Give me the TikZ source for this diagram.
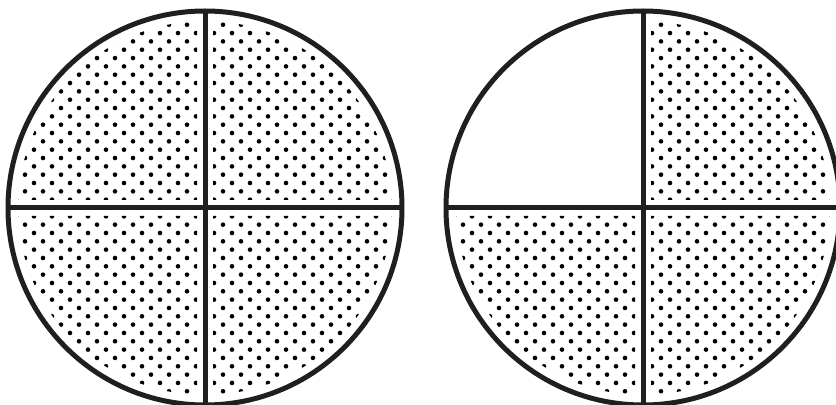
\documentclass[tikz,border=0pt]{standalone}
\usetikzlibrary{calc}
\newcommand\dotgrid[1]{%
  \foreach \j in {-24,...,24}
    \foreach \i in {-11,...,11}
      \fill ($(#1)+({18*\i+9*mod(\j,2)},{8.33*\j})$) circle (2.3);}
\begin{document}
\begin{tikzpicture}[x=0.02cm, y=-0.02cm,
   rim/.style={line width=0.1cm, draw=black!88}]
  \useasboundingbox (0,0) rectangle (836,405);
  \coordinate (L) at (205,208);
  \coordinate (R) at (643,208);
  \begin{scope}
    \clip (L) circle (187);
    \clip ($(L)+(-200,-200)$) rectangle ($(L)+(-8,-8)$)
          ($(L)+(8,-200)$) rectangle ($(L)+(200,-8)$)
          ($(L)+(-200,8)$) rectangle ($(L)+(-8,200)$)
          ($(L)+(8,8)$) rectangle ($(L)+(200,200)$);
    \dotgrid{L}
  \end{scope}
  \begin{scope}
    \clip (R) circle (187);
    \clip ($(R)+(8,-200)$) rectangle ($(R)+(200,-8)$)
          ($(R)+(-200,8)$) rectangle ($(R)+(-8,200)$)
          ($(R)+(8,8)$) rectangle ($(R)+(200,200)$);
    \dotgrid{R}
  \end{scope}
  \foreach \c in {L,R} {
    \draw[rim] (\c) circle (197);
    \draw[rim] ($(\c)+(0,-197)$) -- ($(\c)+(0,197)$);
    \draw[rim] ($(\c)+(-197,0)$) -- ($(\c)+(197,0)$);
  }
\end{tikzpicture}
\end{document}
